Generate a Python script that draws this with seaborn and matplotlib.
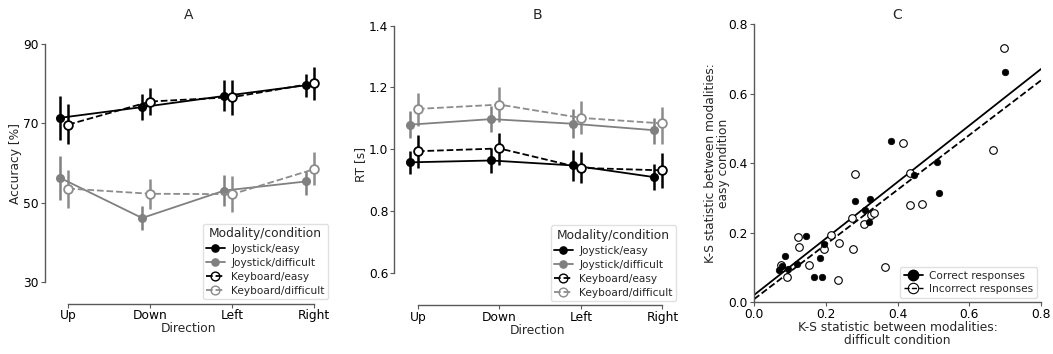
import numpy as np
import pandas as pd
import matplotlib
matplotlib.use("Agg")
import matplotlib.pyplot as plt
from matplotlib.lines import Line2D
import seaborn as sns

# ---------------- data ----------------
directions = ["Up", "Down", "Left", "Right"]
series_names = ["Joystick/easy", "Joystick/difficult", "Keyboard/easy", "Keyboard/difficult"]

# Panel A: accuracy [%]
acc_joy_easy = [71.4, 74.1, 76.9, 79.6]
acc_joy_easy_lo = [65.9, 70.8, 73.0, 76.6]
acc_joy_easy_hi = [76.8, 77.4, 80.9, 82.5]
acc_joy_diff = [56.3, 46.2, 53.1, 55.4]
acc_joy_diff_lo = [50.8, 43.3, 49.3, 52.0]
acc_joy_diff_hi = [61.8, 49.1, 57.1, 58.0]
acc_key_easy = [69.7, 75.5, 76.6, 80.1]
acc_key_easy_lo = [64.7, 72.2, 72.0, 76.0]
acc_key_easy_hi = [74.8, 78.8, 80.9, 84.1]
acc_key_diff = [53.6, 52.3, 52.2, 58.5]
acc_key_diff_lo = [48.7, 48.5, 47.8, 54.6]
acc_key_diff_hi = [58.4, 55.9, 56.7, 62.7]

# Panel B: RT [s]
rt_joy_easy = [0.957, 0.963, 0.947, 0.909]
rt_joy_easy_lo = [0.920, 0.921, 0.896, 0.867]
rt_joy_easy_hi = [0.995, 1.002, 0.996, 0.952]
rt_joy_diff = [1.079, 1.097, 1.082, 1.061]
rt_joy_diff_lo = [1.036, 1.054, 1.036, 1.018]
rt_joy_diff_hi = [1.124, 1.141, 1.130, 1.101]
rt_key_easy = [0.993, 1.002, 0.939, 0.931]
rt_key_easy_lo = [0.939, 0.950, 0.889, 0.873]
rt_key_easy_hi = [1.045, 1.052, 0.992, 0.987]
rt_key_diff = [1.130, 1.144, 1.101, 1.083]
rt_key_diff_lo = [1.074, 1.088, 1.050, 1.015]
rt_key_diff_hi = [1.181, 1.201, 1.155, 1.136]

# Panel C: K-S statistics (difficult, easy)
ks_correct_diff = [0.699, 0.511, 0.515, 0.447, 0.381, 0.281, 0.324, 0.310, 0.321, 0.146,
                   0.194, 0.185, 0.167, 0.189, 0.120, 0.087, 0.079, 0.096, 0.070]
ks_correct_easy = [0.662, 0.404, 0.313, 0.366, 0.463, 0.291, 0.297, 0.265, 0.230, 0.190,
                   0.167, 0.127, 0.072, 0.072, 0.110, 0.133, 0.105, 0.095, 0.091]
ks_incorrect_diff = [0.698, 0.667, 0.415, 0.435, 0.436, 0.468, 0.281, 0.273, 0.308, 0.327,
                     0.335, 0.215, 0.195, 0.236, 0.275, 0.122, 0.126, 0.153, 0.235, 0.364,
                     0.093, 0.074]
ks_incorrect_easy = [0.731, 0.437, 0.459, 0.373, 0.279, 0.281, 0.369, 0.242, 0.226, 0.250,
                     0.257, 0.193, 0.154, 0.171, 0.152, 0.187, 0.159, 0.108, 0.064, 0.100,
                     0.071, 0.107]
fit_correct = (0.814, 0.020)    # slope, intercept
fit_incorrect = (0.788, 0.008)

# ---------------- style ----------------
sns.set_style("ticks")
plt.rcParams["font.family"] = ["DejaVu Sans"]
SPINE = "0.35"
plt.rcParams.update({
    "axes.edgecolor": SPINE, "xtick.color": SPINE, "ytick.color": SPINE,
    "xtick.labelcolor": "black", "ytick.labelcolor": "black",
    "axes.linewidth": 1.0, "xtick.major.size": 2.8, "ytick.major.size": 2.8,
})
W, H = 1053, 354
fig = plt.figure(figsize=(W / 100, H / 100), dpi=100)

TICK_FS = 8.8
LABEL_FS = 8.8
TITLE_FS = 10
LEG_FS = 7.6
LEG_TITLE_FS = 8.8


def add_ax(left, right, top, bottom):
    return fig.add_axes([left / W, 1 - bottom / H, (right - left) / W, (bottom - top) / H])


GRAY = "0.5"
GRAY2 = "0.55"
styles = [
    dict(color="black", ls="-", mfc="black", ms=5.2, off=-0.1),
    dict(color=GRAY, ls="-", mfc=GRAY, ms=5.2, off=-0.1),
    dict(color="black", ls="--", mfc="white", ms=6.3, off=0.0),
    dict(color=GRAY2, ls="--", mfc="white", ms=6.3, off=0.0),
]


def direction_panel(ax, series, ylim, yticks, ylabel, title):
    xpos = np.arange(len(directions))
    for name, (vals, lo, hi), st in zip(series_names, series, styles):
        x = xpos + st["off"]
        df = pd.DataFrame({"x": x, "y": vals})
        ax.vlines(x, lo, hi, color=st["color"], lw=1.8, zorder=2)
        sns.lineplot(data=df, x="x", y="y", ax=ax, color=st["color"], linestyle=st["ls"],
                     lw=1.3, marker="o", markersize=st["ms"], markerfacecolor=st["mfc"],
                     markeredgecolor=st["color"], markeredgewidth=1.3, zorder=3,
                     legend=False)
    ax.set_xlim(-0.29, 3.215)
    ax.set_ylim(*ylim)
    ax.set_xticks(xpos)
    ax.set_xticklabels(directions)
    ax.set_yticks(yticks)
    ax.tick_params(labelsize=TICK_FS, pad=1.5)
    ax.set_xlabel("Direction", fontsize=LABEL_FS, labelpad=0)
    ax.set_ylabel(ylabel, fontsize=LABEL_FS, labelpad=1)
    ax.set_title(title, fontsize=TITLE_FS, pad=3.5)
    sns.despine(ax=ax, trim=True)
    handles = [Line2D([], [], color=st["color"], ls=st["ls"], lw=1.3, marker="o",
                      markersize=st["ms"],
                      markerfacecolor=("none" if st["mfc"] == "white" else st["mfc"]),
                      markeredgecolor=st["color"], markeredgewidth=1.0)
               for st in styles]
    leg = ax.legend(handles, series_names, title="Modality/condition", loc="lower right",
                    fontsize=LEG_FS, title_fontsize=LEG_TITLE_FS, labelspacing=0.38,
                    handlelength=1.8, handletextpad=0.6, borderpad=0.3,
                    frameon=True, borderaxespad=0.4)
    leg.get_frame().set_edgecolor("0.85")


axA = add_ax(44.5, 332, 24, 303.5)
direction_panel(axA,
                [(acc_joy_easy, acc_joy_easy_lo, acc_joy_easy_hi),
                 (acc_joy_diff, acc_joy_diff_lo, acc_joy_diff_hi),
                 (acc_key_easy, acc_key_easy_lo, acc_key_easy_hi),
                 (acc_key_diff, acc_key_diff_lo, acc_key_diff_hi)],
                (24.7, 95.0), [30, 50, 70, 90], "Accuracy [%]", "A")

axB = add_ax(394.3, 680, 24, 305)
direction_panel(axB,
                [(rt_joy_easy, rt_joy_easy_lo, rt_joy_easy_hi),
                 (rt_joy_diff, rt_joy_diff_lo, rt_joy_diff_hi),
                 (rt_key_easy, rt_key_easy_lo, rt_key_easy_hi),
                 (rt_key_diff, rt_key_diff_lo, rt_key_diff_hi)],
                (0.495, 1.405), [0.6, 0.8, 1.0, 1.2, 1.4], "RT [s]", "B")

# ---------------- panel C ----------------
axC = add_ax(754, 1041, 24.3, 302)
dfc = pd.DataFrame({"x": ks_correct_diff, "y": ks_correct_easy})
dfi = pd.DataFrame({"x": ks_incorrect_diff, "y": ks_incorrect_easy})
sns.scatterplot(data=dfi, x="x", y="y", ax=axC, s=30, facecolor="white",
                edgecolor="black", linewidth=0.8, zorder=3)
sns.scatterplot(data=dfc, x="x", y="y", ax=axC, s=22, color="black",
                edgecolor="black", linewidth=0.5, zorder=3)
xl = np.array([0.0, 0.8])
for (slope, icpt), ls in [(fit_correct, "-"), (fit_incorrect, "--")]:
    sns.lineplot(x=xl, y=slope * xl + icpt, ax=axC, color="black", linestyle=ls, lw=1.3,
                 zorder=2)
axC.set_xlim(0, 0.8)
axC.set_ylim(0, 0.8)
axC.set_xticks([0.0, 0.2, 0.4, 0.6, 0.8])
axC.set_yticks([0.0, 0.2, 0.4, 0.6, 0.8])
axC.tick_params(labelsize=TICK_FS, pad=1.5)
axC.set_xlabel("K-S statistic between modalities:\ndifficult condition", fontsize=LABEL_FS,
               labelpad=0, linespacing=1.0)
axC.set_ylabel("K-S statistic between modalities:\neasy condition", fontsize=LABEL_FS,
               labelpad=-1, linespacing=1.0)
axC.set_title("C", fontsize=TITLE_FS, pad=3.5)
sns.despine(ax=axC, trim=True)
hc = [Line2D([], [], color="black", ls="-", lw=1.3, marker="o", markersize=7.5,
             markerfacecolor="black"),
      Line2D([], [], color="black", ls="--", lw=1.0, marker="o", markersize=7.5,
             markerfacecolor="none", markeredgewidth=0.8)]
legC = axC.legend(hc, ["Correct responses", "Incorrect responses"], loc="lower right",
                  fontsize=LEG_FS, labelspacing=0.3, handlelength=1.8, handletextpad=0.6,
                  borderpad=0.35, frameon=True, borderaxespad=0.4)
legC.get_frame().set_edgecolor("0.85")

fig.savefig("out.png", dpi=100)
